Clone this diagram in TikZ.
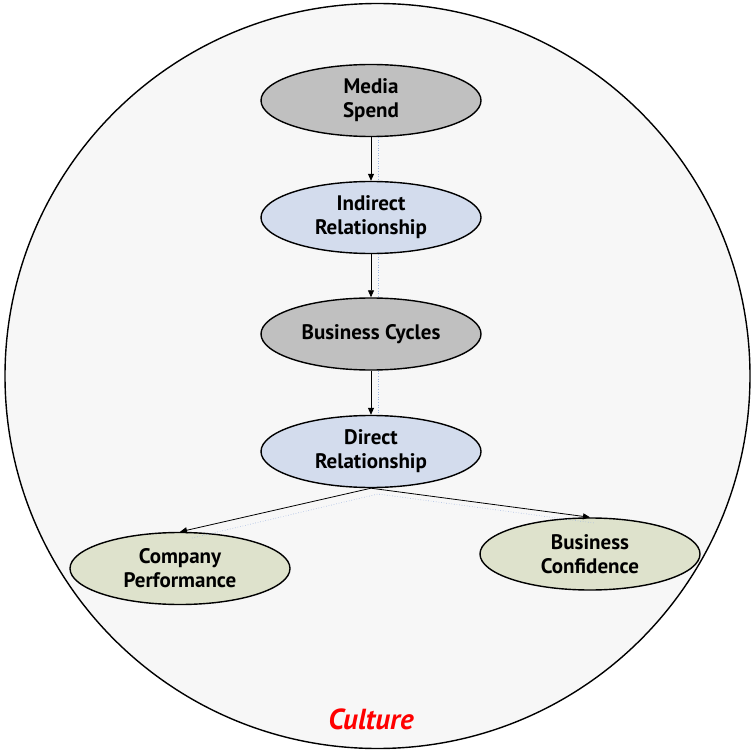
\documentclass[tikz,border=0pt]{standalone}
\usepackage{fontspec}
\setmainfont{PT Sans}
\usetikzlibrary{shapes.geometric,arrows.meta}

\definecolor{bggray}{HTML}{F7F7F7}
\definecolor{nodegray}{HTML}{C0C0C0}
\definecolor{nodeblue}{HTML}{D3DCED}
\definecolor{nodegreen}{HTML}{DEE2CC}
\definecolor{guideblue}{HTML}{9DB4E0}

\begin{document}
\begin{tikzpicture}[x=1pt,y=-1pt,
    factor/.style={ellipse, draw=black, line width=1.4pt, minimum width=220pt,
        minimum height=72pt, inner sep=0pt, align=center,
        font=\fontsize{21}{24}\selectfont\bfseries},
    link/.style={-{Triangle[length=7pt,width=6pt]}, line width=0.8pt},
    guide/.style={guideblue, dotted, line width=0.6pt}]

    \useasboundingbox (0,0) rectangle (752,751);

    % Culture circle
    \draw[fill=bggray, line width=1.4pt] (377.5,376) circle (372.5);
    \node[text=red, font=\fontsize{29}{32}\selectfont\bfseries\itshape] (culture) at (371,719) {Culture};

    % Factors
    \node[factor, fill=nodegray] (media) at (371,100.5) {Media\\Spend};
    \node[factor, fill=nodeblue] (indirect) at (371,217.5) {Indirect\\Relationship};
    \node[factor, fill=nodegray] (cycles) at (371,334) {Business Cycles};
    \node[factor, fill=nodeblue] (direct) at (371,451.5) {Direct\\Relationship};
    \node[factor, fill=nodegreen] (company) at (180,568.5) {Company\\Performance};
    \node[factor, fill=nodegreen] (confidence) at (590,554) {Business\\Confidence};

    % Faint guides
    \draw[guide] ([xshift=7pt]media.south) -- ([xshift=7pt]indirect.north);
    \draw[guide] ([xshift=7pt]indirect.south) -- ([xshift=7pt]cycles.north);
    \draw[guide] ([xshift=7pt]cycles.south) -- ([xshift=7pt]direct.north);
    \coordinate (split) at (378,494);
    \draw[guide] (192,538) -- (split) -- (594,523);

    % Links
    \draw[link] (media) -- (indirect);
    \draw[link] (indirect) -- (cycles);
    \draw[link] (cycles) -- (direct);
    \draw[link] (direct.south) -- (company.north);
    \draw[link] (direct.south) -- (confidence.north);

\end{tikzpicture}
\end{document}
